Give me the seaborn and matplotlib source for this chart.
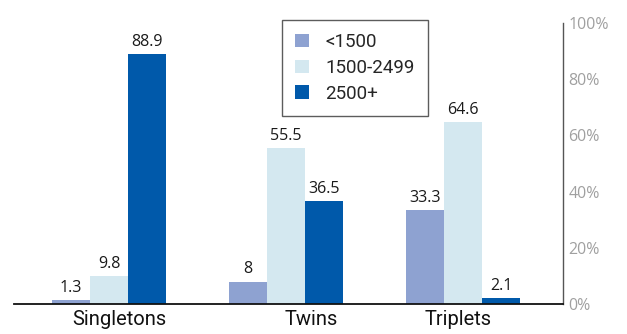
import matplotlib
matplotlib.use("Agg")
import matplotlib.pyplot as plt
import seaborn as sns
import pandas as pd

categories = ["Singletons", "Twins", "Triplets"]
weight_groups = ["<1500", "1500-2499", "2500+"]
v_lt1500 = [1.3, 8, 33.3]
v_1500_2499 = [9.8, 55.5, 64.6]
v_2500 = [88.9, 36.5, 2.1]
y_ticks = [0, 20, 40, 60, 80, 100]
y_tick_labels = ["0%", "20%", "40%", "60%", "80%", "100%"]
colors = ["#8EA2D1", "#D4E8F0", "#0059AA"]
label_shift = [0.06, 0.14, -0.03]

rows = []
for g, vals in zip(weight_groups, [v_lt1500, v_1500_2499, v_2500]):
    for c, v in zip(categories, vals):
        rows.append({"cat": c, "grp": g, "val": v})
df = pd.DataFrame(rows)

sns.set_style("white")
fig = plt.figure(figsize=(6.27, 3.34), dpi=100)
ax = fig.add_axes([14/627, 1-304/334, (563-14)/627, (304-23)/334])

sns.barplot(data=df, x="cat", y="val", hue="grp", order=categories,
            hue_order=weight_groups, palette=colors, width=0.644,
            saturation=1, ax=ax, errorbar=None, linewidth=0)

for cont in ax.containers:
    ax.bar_label(cont, fmt="%g", padding=3, fontsize=11.5,
                 family="Open Sans", color="#1a1a1a")

ax.set_ylim(0, 100)
ax.set_xlim(-0.537, 2.565)
ax.set_xlabel("")
ax.set_ylabel("")
ax.yaxis.tick_right()
ax.set_yticks(y_ticks)
ax.set_yticklabels(y_tick_labels, family="Open Sans", fontsize=11.5, color="#a0a0a0")
ax.tick_params(axis="y", length=0, pad=4)
ax.set_xticks([i + s for i, s in enumerate(label_shift)])
ax.set_xticklabels(categories, family="Roboto", fontsize=14.5, color="#111111")
ax.tick_params(axis="x", length=0, pad=4)

for side in ["top", "left"]:
    ax.spines[side].set_visible(False)
ax.spines["bottom"].set_color("#111111")
ax.spines["bottom"].set_linewidth(1.3)
ax.spines["right"].set_color("#555555")
ax.spines["right"].set_linewidth(1.0)

leg = ax.legend(loc="upper left", bbox_to_anchor=((282-14)/549, (304-20)/281),
                frameon=True, fancybox=False, prop={"family": "Roboto", "size": 13.5},
                handlelength=0.75, handleheight=0.75, handletextpad=0.85,
                labelspacing=0.42, borderpad=0.7, borderaxespad=0)
leg.get_frame().set_edgecolor("#333333")
leg.get_frame().set_linewidth(1.0)
leg.get_frame().set_boxstyle("square", pad=0)
leg.set_title(None)

fig.savefig("out.png", dpi=100)
